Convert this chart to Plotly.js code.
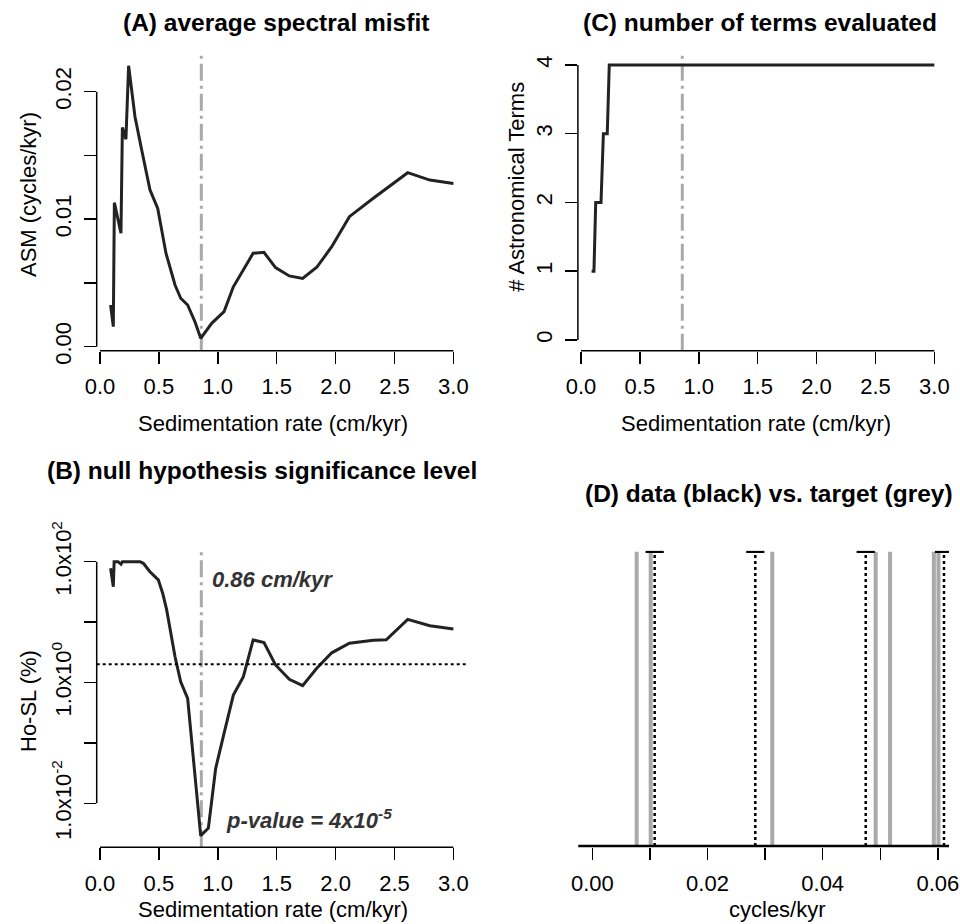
<!DOCTYPE html>
<html>
<head>
<meta charset="utf-8">
<script src="https://cdn.plot.ly/plotly-3.0.1.min.js"></script>
<style>html,body{margin:0;padding:0;background:#fff;}#chart{width:960px;height:924px;}</style>
</head>
<body>
<div id="chart"></div>
<script>
// ---------- DATA ----------
// (A) average spectral misfit
var asmSedrate = [0.09, 0.113, 0.122, 0.153, 0.178, 0.19, 0.22, 0.243, 0.297, 0.354, 0.424, 0.49, 0.56, 0.637, 0.685, 0.744, 0.806, 0.855, 0.948, 1.053, 1.132, 1.30, 1.392, 1.49, 1.607, 1.72, 1.84, 1.967, 2.117, 2.32, 2.49, 2.612, 2.80, 3.0];
var asmValue   = [0.00327, 0.00157, 0.0113, 0.0101, 0.0089, 0.0172, 0.01627, 0.02204, 0.01804, 0.01543, 0.0123, 0.01085, 0.00733, 0.00484, 0.0038, 0.00327, 0.00196, 0.00066, 0.00183, 0.00275, 0.0047, 0.00733, 0.0074, 0.0062, 0.00555, 0.00536, 0.00623, 0.00784, 0.0102, 0.01164, 0.01281, 0.01365, 0.01307, 0.01281];
// (B) null hypothesis significance level (%)
var hoSedrate = [0.09, 0.113, 0.12, 0.153, 0.178, 0.19, 0.34, 0.368, 0.424, 0.495, 0.532, 0.566, 0.637, 0.685, 0.744, 0.806, 0.855, 0.92, 0.982, 1.053, 1.132, 1.217, 1.30, 1.392, 1.49, 1.607, 1.72, 1.84, 1.967, 2.117, 2.32, 2.43, 2.612, 2.80, 3.0];
var hoValue   = [77.6, 38.5, 100, 100, 91, 100, 100, 94, 68, 50, 30, 15.9, 2.67, 1.03, 0.547, 0.0275, 0.0029, 0.0039, 0.038, 0.144, 0.62, 1.25, 5.06, 4.6, 1.95, 1.13, 0.885, 1.72, 3.1, 4.46, 5.0, 5.1, 11.1, 8.7, 7.7];
var hoThreshold = 2;
// (C) number of astronomical terms evaluated
var termSedrate = [0.09, 0.11, 0.125, 0.17, 0.19, 0.223, 0.24, 3.0];
var termCount   = [1, 1, 2, 2, 3, 3, 4, 4];
// optimal sedimentation rate
var bestSedrate = 0.86;
// (D) frequencies (cycles/kyr)
var targetFreq = [0.00771, 0.01014, 0.03125, 0.0492, 0.0517, 0.0593, 0.0601];
var dataFreq   = [0.01083, 0.0283, 0.04747, 0.06106];
// tick labels
var sedTicks = [0, 0.5, 1, 1.5, 2, 2.5, 3];
var sedTickText = ['0.0', '0.5', '1.0', '1.5', '2.0', '2.5', '3.0'];
var asmTicks = [0, 0.01, 0.02];
var asmTickText = ['0.00', '0.01', '0.02'];
var asmMinorStep = 0.005;
var termTicks = [0, 1, 2, 3, 4];
var termTickText = ['0', '1', '2', '3', '4'];
var hoTicks = [0.01, 1, 100];
var hoTickText = ['1.0x10<sup>-2</sup>', '1.0x10<sup>0</sup>', '1.0x10<sup>2</sup>'];
var hoMinorStep = 1; // one decade
var freqTicks = [0, 0.02, 0.04, 0.06];
var freqTickText = ['0.00', '0.02', '0.04', '0.06'];
var freqMinorStep = 0.01;

// ---------- LAYOUT HELPERS ----------
var W = 960, H = 924;
function px(x) { return x / W; }
function py(y) { return 1 - y / H; }
var FONT = 'Liberation Sans, Arial, Helvetica, sans-serif';
var LINE = '#222222';
var GREY = '#a9a9a9';
var TICKSIZE = 22;

function minorTicks(step) {
  return {dtick: step, tick0: 0, ticks: 'outside', ticklen: 12, tickwidth: 1.5, tickcolor: '#000', showgrid: false};
}
function xAxis(dom, range, tv, tt, minor) {
  var a = {domain: [px(dom[0]), px(dom[1])], range: range, tickmode: 'array', tickvals: tv, ticktext: tt,
    ticks: 'outside', ticklen: 12, tickwidth: 1.5, tickcolor: '#000', showline: false,
    showgrid: false, zeroline: false, tickfont: {size: TICKSIZE, color: '#000', family: FONT},
    ticklabelstandoff: 4, fixedrange: true};
  if (minor) a.minor = minorTicks(minor);
  return a;
}
function yAxis(dom, range, tv, tt, type, minor) {
  var a = {domain: [py(dom[1]), py(dom[0])], range: range, tickmode: 'array', tickvals: tv, ticktext: tt,
    ticks: 'outside', ticklen: 12, tickwidth: 1.5, tickcolor: '#000', showline: false,
    showgrid: false, zeroline: false, tickangle: -90, tickfont: {size: TICKSIZE, color: '#000', family: FONT},
    ticklabelstandoff: 4, fixedrange: true};
  if (type) a.type = type;
  if (minor) a.minor = minorTicks(minor);
  return a;
}

var topDom = [54, 350.7], botDom = [550.8, 847.3];
var leftX = [96.7, 467.9], rightX = [577.9, 949.2];

var traces = [];
traces.push({x: asmSedrate, y: asmValue, xaxis: 'x', yaxis: 'y', mode: 'lines', line: {color: LINE, width: 3}});
traces.push({x: termSedrate, y: termCount, xaxis: 'x2', yaxis: 'y2', mode: 'lines', line: {color: LINE, width: 3}});
traces.push({x: hoSedrate, y: hoValue, xaxis: 'x3', yaxis: 'y3', mode: 'lines', line: {color: LINE, width: 3}});

// Panel D: target (grey) and data (black dotted)
var gx = [], gy = [];
targetFreq.forEach(function (f) { gx.push(f, f, null); gy.push(0, 1, null); });
traces.push({x: gx, y: gy, xaxis: 'x4', yaxis: 'y4', mode: 'lines', line: {color: GREY, width: 4}});
var dx = [], dy = [], capY = [];
dataFreq.forEach(function (f) { dx.push(f, f, null); dy.push(0, 1, null); capY.push(1); });
traces.push({x: dx, y: dy, xaxis: 'x4', yaxis: 'y4', mode: 'lines', line: {color: '#000', width: 2.5, dash: 'dot'}});
traces.push({x: dataFreq, y: capY, xaxis: 'x4', yaxis: 'y4', mode: 'markers', cliponaxis: true,
  marker: {symbol: 'line-ew', size: 13, line: {color: '#000', width: 2.5}}});

var dashdot = '17px,5px,3px,5px';
var shapes = [
  // R-style axis lines (first to last tick)
  {type: 'line', xref: 'x', yref: 'y domain', x0: 0, x1: 3, y0: 0, y1: 0, line: {color: '#000', width: 1.5}},
  {type: 'line', xref: 'x domain', yref: 'y', x0: 0, x1: 0, y0: 0, y1: 0.02, line: {color: '#000', width: 1.5}},
  {type: 'line', xref: 'x2', yref: 'y2 domain', x0: 0, x1: 3, y0: 0, y1: 0, line: {color: '#000', width: 1.5}},
  {type: 'line', xref: 'x2 domain', yref: 'y2', x0: 0, x1: 0, y0: 0, y1: 4, line: {color: '#000', width: 1.5}},
  {type: 'line', xref: 'x3', yref: 'y3 domain', x0: 0, x1: 3, y0: 0, y1: 0, line: {color: '#000', width: 1.5}},
  {type: 'line', xref: 'x3 domain', yref: 'y3', x0: 0, x1: 0, y0: 0.01, y1: 100, line: {color: '#000', width: 1.5}},
  {type: 'line', xref: 'x4 domain', yref: 'y4 domain', x0: 0, x1: 1, y0: 0.004, y1: 0.004, line: {color: '#000', width: 2.5}},
  // best sedimentation rate
  {type: 'line', xref: 'x', yref: 'y domain', x0: bestSedrate, x1: bestSedrate, y0: 0, y1: 1, line: {color: GREY, width: 3, dash: dashdot}, layer: 'below'},
  {type: 'line', xref: 'x2', yref: 'y2 domain', x0: bestSedrate, x1: bestSedrate, y0: 0, y1: 1, line: {color: GREY, width: 3, dash: dashdot}, layer: 'below'},
  {type: 'line', xref: 'x3', yref: 'y3 domain', x0: bestSedrate, x1: bestSedrate, y0: 0, y1: 1, line: {color: GREY, width: 3, dash: dashdot}, layer: 'below'},
  // significance threshold
  {type: 'line', xref: 'x3 domain', yref: 'y3', x0: 0, x1: 1, y0: hoThreshold, y1: hoThreshold, line: {color: '#000', width: 2, dash: 'dot'}}
];

function ann(text, x, y, opts) {
  var a = {text: text, x: px(x), y: py(y), xref: 'paper', yref: 'paper', showarrow: false,
    xanchor: 'center', yanchor: 'middle', font: {size: 22, color: '#000', family: FONT}};
  for (var k in opts) a[k] = opts[k];
  return a;
}
var titleFont = {size: 24.5, color: '#000', family: FONT, weight: 'bold'};
var annotations = [
  ann('(A) average spectral misfit', 120.5, 23, {xanchor: 'left', font: titleFont}),
  ann('(C) number of terms evaluated', 581, 23, {xanchor: 'left', font: titleFont}),
  ann('(B) null hypothesis significance level', 45, 470, {xanchor: 'left', font: titleFont}),
  ann('(D) data (black) vs. target (grey)', 583, 493, {xanchor: 'left', font: titleFont}),
  ann('Sedimentation rate (cm/kyr)', 272.5, 423, {}),
  ann('Sedimentation rate (cm/kyr)', 756, 423, {}),
  ann('Sedimentation rate (cm/kyr)', 272.5, 909, {}),
  ann('cycles/kyr', 777, 909, {}),
  ann('ASM (cycles/kyr)', 28, 195, {textangle: -90}),
  ann('# Astronomical Terms', 516.7, 187, {textangle: -90}),
  ann('Ho-SL (%)', 28, 701, {textangle: -90}),
  ann('<b><i>0.86 cm/kyr</i></b>', 272.5, 579, {font: {size: 22, color: '#333', family: FONT}}),
  ann('<b><i>p-value = 4x10<sup>-5</sup></i></b>', 309, 819, {font: {size: 22, color: '#333', family: FONT}})
];

var layout = {
  width: W, height: H, margin: {l: 0, r: 0, t: 0, b: 0}, paper_bgcolor: '#fff', plot_bgcolor: 'rgba(0,0,0,0)',
  showlegend: false, font: {family: FONT, color: '#000'},
  xaxis: xAxis(leftX, [-0.028, 3.123], sedTicks, sedTickText),
  yaxis: yAxis(topDom, [-0.000314, 0.02296], asmTicks, asmTickText, null, asmMinorStep),
  xaxis2: xAxis(rightX, [-0.0263, 3.126], sedTicks, sedTickText),
  yaxis2: yAxis(topDom, [-0.156, 4.16], termTicks, termTickText),
  xaxis3: xAxis(leftX, [-0.028, 3.123], sedTicks, sedTickText),
  yaxis3: yAxis(botDom, [-2.728, 2.18], hoTicks, hoTickText, 'log', hoMinorStep),
  xaxis4: xAxis([578.3, 949], [-0.00243, 0.06193], freqTicks, freqTickText, freqMinorStep),
  yaxis4: {domain: [py(botDom[1]), py(botDom[0])], range: [-0.0044, 1.003], visible: false, fixedrange: true},
  shapes: shapes, annotations: annotations
};
layout.xaxis.anchor = 'y'; layout.yaxis.anchor = 'x';
layout.xaxis2.anchor = 'y2'; layout.yaxis2.anchor = 'x2';
layout.xaxis3.anchor = 'y3'; layout.yaxis3.anchor = 'x3';
layout.xaxis4.anchor = 'y4'; layout.yaxis4.anchor = 'x4';

Plotly.newPlot('chart', traces, layout, {staticPlot: true, displayModeBar: false});
</script>
</body>
</html>
